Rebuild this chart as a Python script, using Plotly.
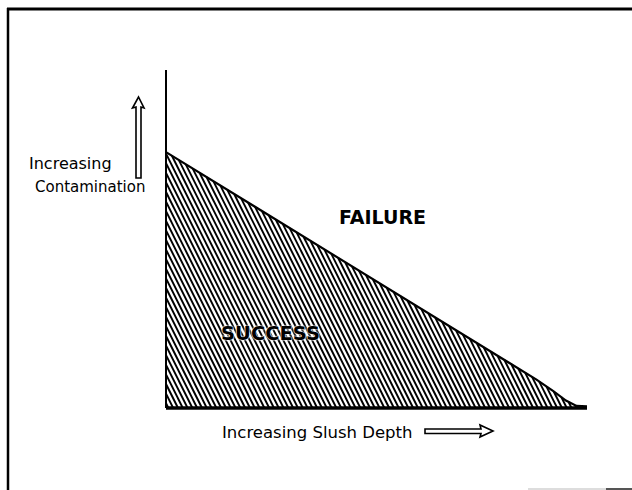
import numpy as np
import plotly.graph_objects as go

W, H = 632, 490

# boundary between success and failure (normalised units)
slush_depth = [0.0, 0.2, 0.4, 0.6, 0.8, 0.88, 0.92, 0.95, 0.975, 1.0]
contamination = [0.757, 0.604, 0.451, 0.298, 0.145, 0.084, 0.05, 0.022, 0.006, 0.005]

region_labels = ["FAILURE", "SUCCESS"]
x_label = "Increasing Slush Depth"
y_label = ["Increasing", "Contamination"]

# pixel geometry of the plotting frame
x0_px, x1_px = 166, 587
y0_px, y1_px = 408, 70
ux = x1_px - x0_px
uy = y0_px - y1_px
x_range = [-x0_px / ux, (W - x0_px) / ux]
y_range = [-(H - y0_px) / uy, y0_px / uy]


def px(x):
    return x / W


def py(y):
    return 1 - y / H


# hatch lines, steep "\" direction, clipped to the success region
grid = np.linspace(0, 1, 4001)
f = np.interp(grid, slush_depth, contamination)
slope = 2.0 * ux / uy
spacing = 4.8 / ux
hx, hy = [], []
for b in np.arange(spacing / 2, 1.0, spacing):
    g = f - slope * (b - grid)
    ok = (grid <= b) & (g >= 0)
    if not ok.any():
        continue
    xs = grid[ok][0]
    hx += [xs, b, None]
    hy += [slope * (b - xs), 0, None]

fig = go.Figure()
fig.add_trace(go.Scatter(x=hx, y=hy, mode="lines",
                         line=dict(color="black", width=1.9), hoverinfo="skip"))
fig.add_trace(go.Scatter(x=slush_depth, y=contamination, mode="lines",
                         line=dict(color="black", width=2.2), hoverinfo="skip"))
# axes
fig.add_trace(go.Scatter(x=[0, 0], y=[0, 1], mode="lines",
                         line=dict(color="black", width=2), hoverinfo="skip"))
fig.add_trace(go.Scatter(x=[0, 1], y=[0, 0], mode="lines",
                         line=dict(color="black", width=3.5), hoverinfo="skip"))

label_font = dict(family="DejaVu Sans", size=16, color="black")
bold_font = dict(family="DejaVu Sans", size=19, color="black", weight="bold")

annotations = [
    dict(x=px(27), y=py(163), text=y_label[0], xanchor="left", font=label_font),
    dict(x=px(33), y=py(187), text=y_label[1], xanchor="left",
         font=dict(label_font, size=15)),
    dict(x=px(317), y=py(432), text=x_label, font=dict(label_font, size=16.5)),
    dict(x=px(382), y=py(217), text=region_labels[0], font=bold_font),
    dict(x=px(270), y=py(333), text=region_labels[1],
         font=dict(bold_font, size=19.5,
                   shadow="0 0 2px white, 0 0 2px white, 0 0 1px white")),
]
for a in annotations:
    a.update(xref="paper", yref="paper", showarrow=False, yanchor="middle")


def path(points):
    return "M " + " L ".join(f"{px(x):.5f},{py(y):.5f}" for x, y in points) + " Z"


up_arrow = [(136, 178), (136, 107), (132.5, 108), (138.5, 97), (144, 108),
            (141, 107), (141, 178)]
right_arrow = [(425, 429), (481, 429), (480, 425), (493, 431), (480, 437),
               (481, 433.5), (425, 433.5)]

shapes = [
    dict(type="path", path=path(up_arrow), line=dict(color="black", width=1.6)),
    dict(type="path", path=path(right_arrow), line=dict(color="black", width=1.6)),
    # scanned frame
    dict(type="line", x0=px(7), x1=px(W), y0=py(9), y1=py(9),
         line=dict(color="black", width=3)),
    dict(type="line", x0=px(8), x1=px(8), y0=py(8), y1=py(H),
         line=dict(color="black", width=2.5)),
    dict(type="line", x0=px(528), x1=px(606), y0=py(489), y1=py(489),
         line=dict(color="#dddddd", width=2)),
    dict(type="line", x0=px(606), x1=px(W), y0=py(489), y1=py(489),
         line=dict(color="#555555", width=2)),
]
for s in shapes:
    s.update(xref="paper", yref="paper")

fig.update_layout(
    width=W, height=H,
    margin=dict(l=0, r=0, t=0, b=0),
    paper_bgcolor="white", plot_bgcolor="white",
    showlegend=False,
    xaxis=dict(range=x_range, visible=False, fixedrange=True),
    yaxis=dict(range=y_range, visible=False, fixedrange=True),
    annotations=annotations,
    shapes=shapes,
)

fig.write_html("out.html", config={"displayModeBar": False},
               post_script="document.body.style.margin='0px';")
